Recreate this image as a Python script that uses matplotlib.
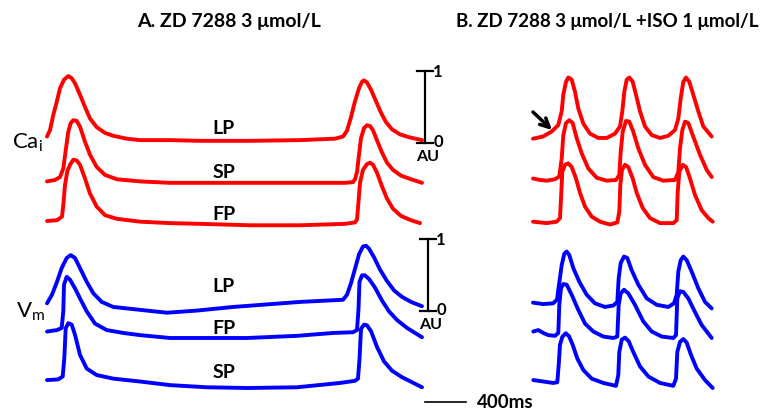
import matplotlib
matplotlib.use("Agg")
import matplotlib.pyplot as plt
from matplotlib.transforms import Affine2D

plt.rcParams['font.family'] = ['Lato', 'DejaVu Sans']

# traces: time in ms from trace start, amplitude in AU
# panel A, Ca_i (red)
a_ca_lp_t = [0, 30, 63, 97, 130, 170, 213, 247, 280, 330, 380, 430, 497, 580, 663, 797, 930,
             1230, 1530, 2030, 2530, 2880, 2960, 3000, 3040, 3080, 3120, 3150, 3170, 3200, 3240,
             3290, 3340, 3390, 3450, 3530, 3620, 3750]
a_ca_lp_v = [0.09, 0.18, 0.39, 0.57, 0.76, 0.88, 0.93, 0.90, 0.83, 0.67, 0.50, 0.34, 0.22, 0.14, 0.10,
             0.06, 0.04, 0.04, 0.03, 0.03, 0.04, 0.06, 0.09, 0.17, 0.36, 0.58, 0.76, 0.85, 0.87, 0.84,
             0.74, 0.58, 0.42, 0.29, 0.19, 0.12, 0.08, 0.04]
a_ca_sp_t = [0, 80, 130, 163, 190, 213, 237, 263, 297, 330, 380, 430, 497, 580, 697, 930, 1230,
             1530, 2030, 2530, 2980, 3060, 3080, 3100, 3120, 3140, 3170, 3200, 3230, 3260, 3300,
             3350, 3400, 3460, 3540, 3640, 3750]
a_ca_sp_v = [0.05, 0.07, 0.11, 0.23, 0.51, 0.74, 0.86, 0.90, 0.89, 0.81, 0.60, 0.42, 0.25, 0.14, 0.08,
             0.05, 0.03, 0.03, 0.03, 0.03, 0.03, 0.04, 0.08, 0.18, 0.42, 0.65, 0.79, 0.83, 0.82, 0.76,
             0.62, 0.45, 0.31, 0.21, 0.13, 0.08, 0.03]
a_ca_fp_t = [0, 100, 150, 163, 180, 203, 230, 263, 297, 330, 380, 430, 497, 580, 697, 930, 1230,
             1530, 2030, 2530, 2980, 3080, 3100, 3110, 3130, 3160, 3200, 3230, 3260, 3300, 3350,
             3400, 3460, 3540, 3640, 3730]
a_ca_fp_v = [0.07, 0.08, 0.13, 0.29, 0.57, 0.76, 0.85, 0.92, 0.91, 0.85, 0.66, 0.45, 0.27, 0.15, 0.10,
             0.06, 0.04, 0.03, 0.01, 0.01, 0.03, 0.05, 0.09, 0.25, 0.60, 0.78, 0.86, 0.88, 0.85, 0.74,
             0.55, 0.38, 0.24, 0.14, 0.08, 0.04]

# panel A, Vm (blue)
a_vm_lp_t = [0, 50, 100, 147, 197, 237, 280, 330, 397, 463, 547, 663, 797, 930, 1200, 1500, 1860,
             2530, 2960, 3000, 3040, 3080, 3120, 3160, 3190, 3220, 3270, 3330, 3400, 3470, 3550,
             3640, 3750]
a_vm_lp_v = [0.12, 0.24, 0.42, 0.61, 0.75, 0.79, 0.75, 0.61, 0.42, 0.26, 0.14, 0.07, 0.05, 0.03, -0.01,
             0.02, 0.07, 0.14, 0.17, 0.24, 0.40, 0.60, 0.80, 0.91, 0.92, 0.88, 0.76, 0.59, 0.43, 0.30,
             0.21, 0.14, 0.08]
a_vm_fp_t = [0, 100, 147, 163, 170, 197, 230, 280, 330, 397, 480, 597, 763, 930, 1230, 1600, 2000,
             2500, 2860, 3060, 3100, 3115, 3125, 3150, 3180, 3220, 3280, 3350, 3420, 3500, 3600, 3750]
a_vm_fp_v = [0.09, 0.11, 0.14, 0.37, 0.74, 0.85, 0.81, 0.69, 0.55, 0.37, 0.20, 0.11, 0.07, 0.04, 0.0,
             0.0, 0.0, 0.03, 0.07, 0.08, 0.11, 0.40, 0.78, 0.87, 0.87, 0.82, 0.70, 0.52, 0.37, 0.25,
             0.14, 0.01]
a_vm_sp_t = [0, 113, 157, 173, 187, 213, 247, 280, 330, 397, 497, 663, 930, 1230, 1600, 2000, 2500,
             2930, 3080, 3110, 3125, 3140, 3170, 3200, 3240, 3300, 3370, 3450, 3550, 3650, 3750]
a_vm_sp_v = [0.11, 0.12, 0.16, 0.41, 0.83, 0.90, 0.88, 0.74, 0.46, 0.27, 0.18, 0.13, 0.09, 0.04, 0.01,
             0.0, 0.01, 0.07, 0.10, 0.13, 0.40, 0.82, 0.88, 0.87, 0.79, 0.57, 0.37, 0.24, 0.15, 0.08,
             0.01]

# panel B, Ca_i (red)
b_ca_lp_t = [0, 100, 187, 253, 287, 303, 330, 353, 387, 420, 453, 503, 570, 653, 737, 820, 870, 893,
             913, 937, 963, 997, 1030, 1070, 1120, 1187, 1270, 1353, 1420, 1453, 1477, 1503, 1530,
             1563, 1603, 1653, 1703, 1787]
b_ca_lp_v = [0.06, 0.09, 0.16, 0.25, 0.44, 0.67, 0.85, 0.91, 0.88, 0.71, 0.48, 0.27, 0.13, 0.07, 0.07,
             0.13, 0.23, 0.44, 0.71, 0.88, 0.91, 0.85, 0.67, 0.44, 0.23, 0.11, 0.07, 0.10, 0.18, 0.34,
             0.62, 0.85, 0.91, 0.85, 0.67, 0.44, 0.23, 0.09]
b_ca_sp_t = [0, 70, 137, 220, 263, 287, 303, 330, 363, 397, 437, 487, 553, 637, 737, 830, 863, 877,
             897, 930, 963, 1003, 1053, 1120, 1203, 1303, 1420, 1453, 1470, 1493, 1520, 1553, 1603,
             1670, 1737, 1787]
b_ca_sp_v = [0.09, 0.07, 0.06, 0.08, 0.12, 0.37, 0.69, 0.86, 0.90, 0.86, 0.65, 0.44, 0.23, 0.10, 0.06,
             0.07, 0.14, 0.46, 0.74, 0.89, 0.88, 0.74, 0.51, 0.28, 0.11, 0.06, 0.07, 0.18, 0.51, 0.76,
             0.88, 0.86, 0.67, 0.42, 0.21, 0.11]
b_ca_fp_t = [0, 137, 237, 270, 280, 293, 320, 353, 387, 430, 470, 520, 587, 670, 770, 843, 863, 873,
             890, 920, 953, 997, 1037, 1097, 1170, 1270, 1403, 1437, 1447, 1463, 1497, 1530, 1570,
             1620, 1687, 1753, 1797]
b_ca_fp_v = [0.06, 0.04, 0.06, 0.11, 0.38, 0.75, 0.85, 0.87, 0.82, 0.66, 0.46, 0.27, 0.13, 0.06, 0.02,
             0.05, 0.20, 0.57, 0.78, 0.85, 0.82, 0.66, 0.46, 0.25, 0.11, 0.04, 0.04, 0.08, 0.47, 0.75,
             0.85, 0.82, 0.66, 0.43, 0.22, 0.11, 0.06]

# panel B, Vm (blue)
b_vm_lp_t = [0, 100, 200, 240, 260, 287, 313, 337, 363, 403, 463, 537, 620, 720, 803, 843, 857, 877,
             910, 943, 987, 1053, 1137, 1237, 1353, 1410, 1437, 1453, 1477, 1503, 1537, 1587, 1653,
             1720, 1787]
b_vm_lp_v = [0.13, 0.11, 0.12, 0.17, 0.38, 0.65, 0.81, 0.84, 0.79, 0.61, 0.42, 0.24, 0.12, 0.07, 0.09,
             0.14, 0.47, 0.68, 0.77, 0.75, 0.58, 0.38, 0.19, 0.10, 0.07, 0.12, 0.24, 0.56, 0.72, 0.77,
             0.72, 0.56, 0.33, 0.14, 0.05]
b_vm_fp_t = [3, 53, 103, 153, 220, 253, 263, 280, 303, 337, 387, 453, 520, 603, 703, 803, 843, 857,
             877, 910, 953, 1020, 1103, 1187, 1287, 1403, 1430, 1443, 1470, 1503, 1553, 1620, 1687,
             1787]
b_vm_fp_v = [0.09, 0.11, 0.07, 0.04, 0.03, 0.07, 0.46, 0.69, 0.75, 0.74, 0.60, 0.39, 0.20, 0.09, 0.02,
             0.0, 0.02, 0.46, 0.62, 0.67, 0.62, 0.46, 0.23, 0.09, 0.02, 0.0, 0.04, 0.55, 0.65, 0.64,
             0.55, 0.36, 0.18, 0.0]
b_vm_sp_t = [3, 103, 203, 243, 257, 270, 293, 327, 360, 397, 443, 503, 587, 703, 830, 853, 863, 887,
             920, 957, 1003, 1070, 1153, 1270, 1403, 1430, 1443, 1470, 1503, 1537, 1580, 1637, 1720,
             1797]
b_vm_sp_v = [0.11, 0.09, 0.07, 0.08, 0.32, 0.60, 0.71, 0.76, 0.72, 0.60, 0.41, 0.25, 0.13, 0.07, 0.03,
             0.18, 0.50, 0.67, 0.70, 0.65, 0.50, 0.30, 0.16, 0.07, 0.03, 0.13, 0.50, 0.64, 0.68, 0.63,
             0.46, 0.27, 0.11, 0.0]

RED = '#ff0000'
BLUE = '#0000ff'

fig = plt.figure(figsize=(7.66, 4.16), dpi=100)
ax = fig.add_axes([0, 0, 1, 1])
ax.set_xlim(0, 766)
ax.set_ylim(416, 0)
ax.axis('off')


def place(x0, base):
    # 10 ms per pixel, 72 pixels per AU
    return Affine2D().scale(0.1, -72).translate(x0, base) + ax.transData


traces = [
    (a_ca_lp_t, a_ca_lp_v, 47, 143, RED), (a_ca_sp_t, a_ca_sp_v, 47, 185, RED),
    (a_ca_fp_t, a_ca_fp_v, 47, 226, RED),
    (a_vm_lp_t, a_vm_lp_v, 47, 312, BLUE), (a_vm_fp_t, a_vm_fp_v, 47, 338, BLUE),
    (a_vm_sp_t, a_vm_sp_v, 47, 388, BLUE),
    (b_ca_lp_t, b_ca_lp_v, 533, 143, RED), (b_ca_sp_t, b_ca_sp_v, 533, 185, RED),
    (b_ca_fp_t, b_ca_fp_v, 533, 226, RED),
    (b_vm_lp_t, b_vm_lp_v, 533, 312, BLUE), (b_vm_fp_t, b_vm_fp_v, 533, 338, BLUE),
    (b_vm_sp_t, b_vm_sp_v, 533, 388, BLUE),
]
for t, v, x0, base, c in traces:
    ax.plot(t, v, color=c, lw=2.8, solid_joinstyle='round', solid_capstyle='round',
            transform=place(x0, base))

# AU scale bars
for top, bot, xb in [(71, 143, 425), (239, 311, 428)]:
    ax.plot([xb, xb], [top, bot], color='k', lw=1.6)
    ax.plot([xb - 8, xb + 8], [top, top], color='k', lw=1.6)
    ax.plot([xb - 8, xb + 8], [bot, bot], color='k', lw=1.6)
    ax.text(xb + 8, top + 1, '1', fontsize=12, fontweight='bold', va='center', ha='left')
    ax.text(xb + 9, bot - 1, '0', fontsize=12, fontweight='bold', va='center', ha='left')
    ax.text(xb + 3, bot + 14, 'AU', fontsize=11.5, fontweight='bold', va='center', ha='center')

# time bar
ax.plot([425, 466], [402, 402], color='k', lw=1.2)
ax.text(477, 402, '400ms', fontsize=13.5, fontweight='bold', va='center', ha='left')

ax.text(229, 21, 'A. ZD 7288 3 μmol/L', fontsize=14, fontweight='bold', ha='center', va='center')
ax.text(759, 21, 'B. ZD 7288 3 μmol/L +ISO 1 μmol/L', fontsize=13.5, fontweight='bold',
        ha='right', va='center')

ax.text(12, 143, 'Ca$_\\mathregular{i}$', fontsize=16, ha='left', va='center')
ax.text(16, 312, 'V$_\\mathregular{m}$', fontsize=16, ha='left', va='center')

for lab, y in [('LP', 129), ('SP', 172), ('FP', 215), ('LP', 287), ('FP', 328), ('SP', 373)]:
    ax.text(224, y, lab, fontsize=14, fontweight='bold', ha='center', va='center')

ax.annotate('', xy=(552, 130), xytext=(533, 112),
            arrowprops=dict(arrowstyle='->', color='k', lw=2.5, mutation_scale=16,
                            shrinkA=0, shrinkB=0))

fig.savefig('out.png', dpi=100)
